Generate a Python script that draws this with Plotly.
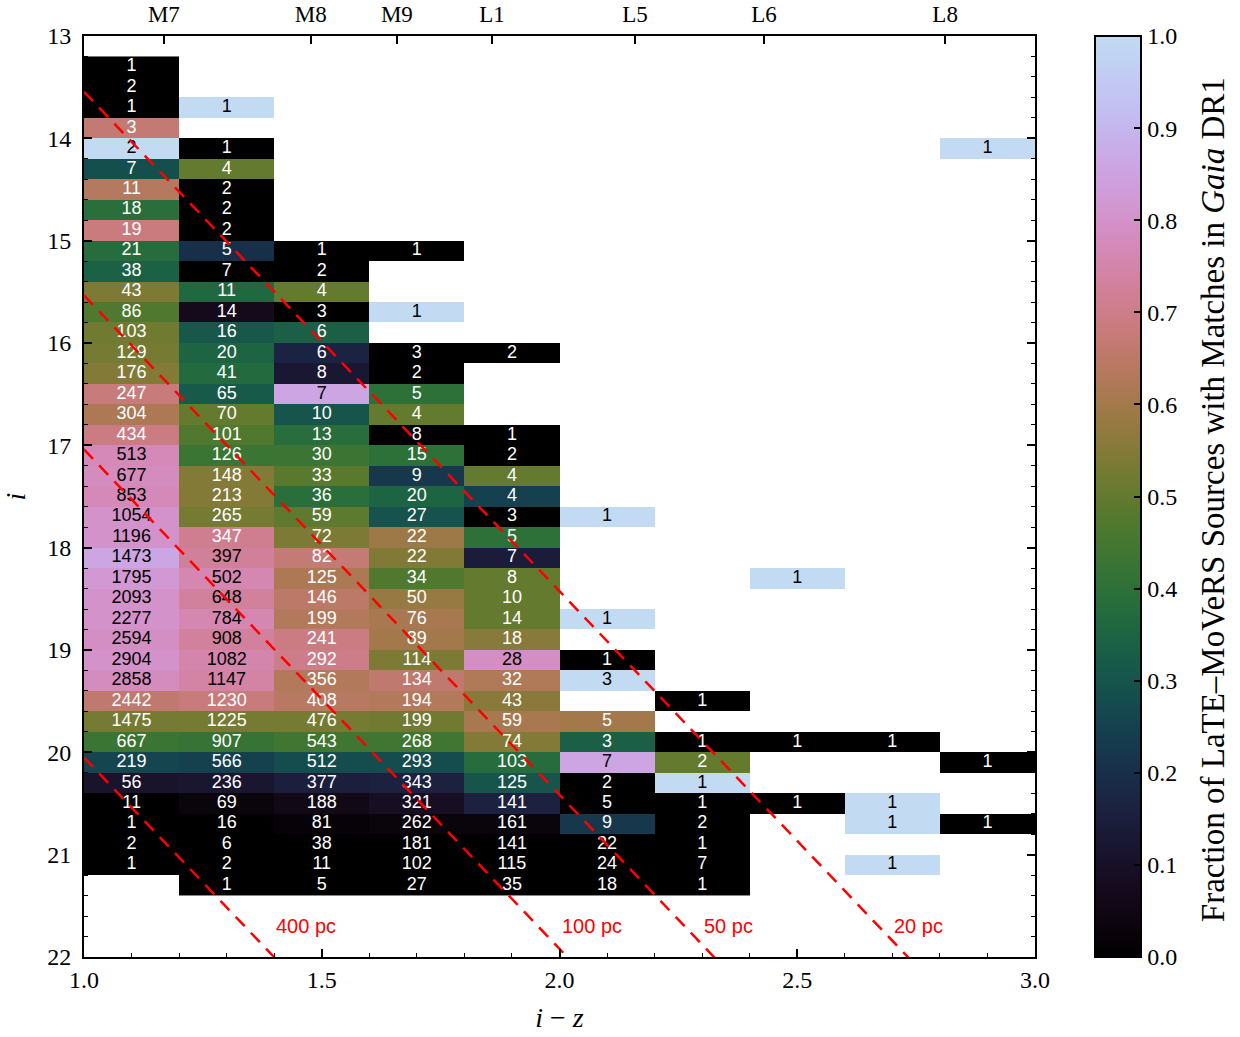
import numpy as np
import plotly.graph_objects as go

# ---------------------------------------------------------------- data
# i-z colour bins (lower edges) and i-magnitude bin width
COLOUR_EDGES = [1.0, 1.2, 1.4, 1.6, 1.8, 2.0, 2.2, 2.4, 2.6, 2.8, 3.0]
MAG_LO, MAG_HI, MAG_STEP = 13.2, 21.4, 0.2

# per colour column: first magnitude bin, source counts, fraction matched in Gaia DR1
start_c1 = 13.2
counts_c1 = [1, 2, 1, 3, 2, 7, 11, 18, 19, 21, 38, 43, 86, 103, 129, 176, 247, 304, 434, 513,
             677, 853, 1054, 1196, 1473, 1795, 2093, 2277, 2594, 2904, 2858, 2442, 1475, 667,
             219, 56, 11, 1, 2, 1]
frac_c1 = [0, 0, 0, 0.667, 1.0, 0.286, 0.636, 0.389, 0.684, 0.381, 0.34, 0.54, 0.47, 0.52, 0.53,
           0.55, 0.68, 0.62, 0.69, 0.77, 0.78, 0.77, 0.80, 0.80, 0.86, 0.82, 0.80, 0.80, 0.79,
           0.80, 0.78, 0.66, 0.53, 0.43, 0.26, 0.11, 0.0, 0, 0, 0]

start_c2 = 13.6
counts_c2 = [1, None, 1, 4, 2, 2, 2, 5, 7, 11, 14, 16, 20, 41, 65, 70, 101, 126, 148, 213, 265,
             347, 397, 502, 648, 784, 908, 1082, 1147, 1230, 1225, 907, 566, 236, 69, 16, 6, 2, 1]
frac_c2 = [1.0, None, 0, 0.5, 0, 0, 0, 0.2, 0, 0.364, 0.071, 0.3125, 0.35, 0.37, 0.32, 0.50, 0.47,
           0.43, 0.55, 0.55, 0.53, 0.71, 0.725, 0.76, 0.73, 0.76, 0.73, 0.75, 0.74, 0.68, 0.53,
           0.42, 0.25, 0.12, 0.03, 0, 0, 0, 0]

start_c3 = 15.0
counts_c3 = [1, 2, 4, 3, 6, 6, 8, 7, 10, 13, 30, 33, 36, 59, 72, 82, 125, 146, 199, 241, 292, 356,
             408, 476, 543, 512, 377, 188, 81, 38, 11, 5]
frac_c3 = [0, 0, 0.5, 0, 0.333, 0.167, 0.125, 0.857, 0.3, 0.385, 0.433, 0.485, 0.389, 0.49, 0.54,
           0.67, 0.62, 0.65, 0.63, 0.69, 0.70, 0.63, 0.64, 0.53, 0.44, 0.28, 0.15, 0.06, 0.02,
           0, 0, 0]

start_c4 = 15.0
counts_c4 = [1, None, None, 1, None, 3, 2, 5, 4, 8, 15, 9, 20, 27, 22, 22, 34, 50, 76, 89, 114,
             134, 194, 199, 268, 293, 343, 321, 262, 181, 102, 27]
frac_c4 = [0, None, None, 1.0, None, 0, 0, 0.4, 0.5, 0, 0.4, 0.222, 0.35, 0.296, 0.59, 0.545,
           0.47, 0.58, 0.61, 0.60, 0.54, 0.66, 0.63, 0.52, 0.44, 0.28, 0.16, 0.09, 0.03, 0, 0, 0]

start_c5 = 16.0
counts_c5 = [2, None, None, None, 1, 2, 4, 4, 3, 5, 7, 8, 10, 14, 18, 28, 32, 43, 59, 74, 103,
             125, 141, 161, 141, 115, 35]
frac_c5 = [0, None, None, None, 0, 0, 0.5, 0.25, 0, 0.4, 0.143, 0.5, 0.5, 0.5, 0.556, 0.786,
           0.625, 0.558, 0.61, 0.55, 0.38, 0.30, 0.16, 0.03, 0, 0, 0]

start_c6 = 17.6
counts_c6 = [1, None, None, None, None, 1, None, 1, 3, None, 5, 3, 7, 2, 5, 9, 22, 24, 18]
frac_c6 = [1.0, None, None, None, None, 1.0, None, 0, 1.0, None, 0.6, 0.333, 0.857, 0, 0,
           0.222, 0, 0, 0]

start_c7 = 19.4
counts_c7 = [1, None, 1, 2, 1, 1, 2, 1, 7, 1]
frac_c7 = [0, None, 0, 0.5, 1.0, 0, 0, 0, 0, 0]

start_c8 = 18.2
counts_c8 = [1, None, None, None, None, None, None, None, 1, None, None, 1]
frac_c8 = [1.0, None, None, None, None, None, None, None, 0, None, None, 0]

start_c9 = 19.8
counts_c9 = [1, None, None, 1, 1, None, 1]
frac_c9 = [0, None, None, 1.0, 1.0, None, 1.0]

start_c10 = 14.0
counts_c10 = [1] + [None] * 29 + [1, None, None, 1]
frac_c10 = [1.0] + [None] * 29 + [0, None, None, 0]

# spectral-type reference colours along the top axis
SPT_LABELS = ["M7", "M8", "M9", "L1", "L5", "L6", "L8"]
SPT_COLOURS = [1.168, 1.477, 1.658, 1.858, 2.159, 2.430, 2.811]

# linear colour-absolute magnitude relation M_i = a + b (i - z) and distance tracks
ABS_MAG_ZERO = 7.16
ABS_MAG_SLOPE = 4.88
DISTANCES_PC = [400, 100, 50, 20]
DIST_LABEL_X = [1.4, 2.0, 2.3, 2.7]
DIST_LABEL_Y = 21.7

# ---------------------------------------------------------------- colour map
def cubehelix(t, start=0.5, rot=-1.5, hue=1.0, gamma=1.0):
    xg = t ** gamma
    amp = hue * xg * (1 - xg) / 2
    phi = 2 * np.pi * (start / 3 + rot * t)
    r = xg + amp * (-0.14861 * np.cos(phi) + 1.78277 * np.sin(phi))
    g = xg + amp * (-0.29227 * np.cos(phi) - 0.90649 * np.sin(phi))
    b = xg + amp * (1.97294 * np.cos(phi))
    return [int(round(255 * min(max(c, 0), 1))) for c in (r, g, b)]

CMAP_TOP = 0.84
colorscale = []
for k in range(41):
    f = k / 40
    r, g, b = cubehelix(f * CMAP_TOP)
    colorscale.append([f, f"rgb({r},{g},{b})"])

# ---------------------------------------------------------------- grid
n_rows = int(round((MAG_HI - MAG_LO) / MAG_STEP))
mag_edges = [round(MAG_LO + MAG_STEP * k, 1) for k in range(n_rows + 1)]
z = np.full((n_rows, len(COLOUR_EDGES) - 1), np.nan)

columns = [
    (start_c1, counts_c1, frac_c1), (start_c2, counts_c2, frac_c2),
    (start_c3, counts_c3, frac_c3), (start_c4, counts_c4, frac_c4),
    (start_c5, counts_c5, frac_c5), (start_c6, counts_c6, frac_c6),
    (start_c7, counts_c7, frac_c7), (start_c8, counts_c8, frac_c8),
    (start_c9, counts_c9, frac_c9), (start_c10, counts_c10, frac_c10),
]

tx, ty, tt, tc = [], [], [], []
for ci, (start, counts, fracs) in enumerate(columns):
    r0 = int(round((start - MAG_LO) / MAG_STEP))
    xc = (COLOUR_EDGES[ci] + COLOUR_EDGES[ci + 1]) / 2
    for k, (n, fr) in enumerate(zip(counts, fracs)):
        if n is None:
            continue
        row = r0 + k
        z[row, ci] = fr
        tx.append(xc)
        ty.append(MAG_LO + MAG_STEP * (row + 0.5))
        tt.append(str(n))
        tc.append("black" if fr >= 0.715 else "white")

SERIF = "Liberation Serif"
SANS = "Liberation Sans"

fig = go.Figure()
fig.add_trace(go.Heatmap(
    x=COLOUR_EDGES, y=mag_edges, z=z, zmin=0, zmax=1,
    colorscale=colorscale, hoverinfo="skip",
    colorbar=dict(
        x=1.0631, xanchor="left", xref="paper", y=0.5, yanchor="middle",
        len=1, lenmode="fraction", thickness=46, thicknessmode="pixels",
        xpad=0, ypad=0,
        outlinewidth=2, outlinecolor="black",
        tickmode="linear", tick0=0, dtick=0.1, tickformat=".1f",
        ticks="inside", ticklen=8, tickwidth=1.5, tickcolor="black",
        tickfont=dict(family=SERIF, size=24, color="black"),
    ),
))

fig.add_trace(go.Scatter(
    x=tx, y=ty, text=tt, mode="text", hoverinfo="skip", showlegend=False,
    textfont=dict(family=SANS, size=18, color=tc),
))

xs = np.array([1.0, 3.0])
for d in DISTANCES_PC:
    ys = ABS_MAG_ZERO + ABS_MAG_SLOPE * xs + 5 * np.log10(d / 10.0)
    fig.add_trace(go.Scatter(
        x=xs, y=ys, mode="lines", hoverinfo="skip", showlegend=False,
        line=dict(color="red", width=2.5, dash="13px,9px"),
    ))

for d, lx in zip(DISTANCES_PC, DIST_LABEL_X):
    fig.add_annotation(x=lx, y=DIST_LABEL_Y, text=f"{d} pc", showarrow=False,
                       xanchor="left", yanchor="middle",
                       font=dict(family=SANS, size=20, color="red"))

# colour bar caption, set vertically beside the bar
fig.add_annotation(
    xref="paper", yref="paper", x=1.1872, y=0.496, showarrow=False,
    text="Fraction of LaTE\u2013MoVeRS Sources with Matches in <i>Gaia</i> DR1",
    textangle=-90, xanchor="center", yanchor="middle",
    font=dict(family=SERIF, size=33, color="black"),
)

# carrier for the spectral-type axis on top
fig.add_trace(go.Scatter(x=[1.0, 3.0], y=[22, 22], xaxis="x2", mode="lines",
                         line=dict(width=0), hoverinfo="skip", showlegend=False))

fig.update_layout(
    width=1240, height=1037,
    margin=dict(l=84, r=205, t=36, b=80, autoexpand=False),
    paper_bgcolor="white", plot_bgcolor="white",
    showlegend=False,
    xaxis=dict(
        range=[1.0, 3.0], showgrid=False, zeroline=False, automargin=False,
        showline=True, linewidth=2, linecolor="black", mirror=True,
        tickmode="linear", tick0=1.0, dtick=0.5, tickformat=".1f",
        ticks="inside", ticklen=8, tickwidth=1.5, tickcolor="black",
        ticklabelstandoff=0,
        minor=dict(dtick=0.1, tick0=1.0, ticks="inside", ticklen=4, tickwidth=1, tickcolor="black"),
        tickfont=dict(family=SERIF, size=24, color="black"),
        title=dict(text="<i>i</i> \u2212 <i>z</i>", font=dict(family=SERIF, size=28, color="black"),
                   standoff=16),
    ),
    xaxis2=dict(
        range=[1.0, 3.0], overlaying="x", side="top", anchor="y", automargin=False,
        showgrid=False, zeroline=False, showline=False,
        tickmode="array", tickvals=SPT_COLOURS, ticktext=SPT_LABELS,
        ticks="inside", ticklen=8, tickwidth=1.5, tickcolor="black",
        ticklabelstandoff=8,
        tickfont=dict(family=SERIF, size=23, color="black"),
    ),
    yaxis=dict(
        range=[22, 13], showgrid=False, zeroline=False, automargin=False,
        showline=True, linewidth=2, linecolor="black", mirror="ticks",
        tickmode="linear", tick0=13, dtick=1,
        ticks="inside", ticklen=8, tickwidth=1.5, tickcolor="black",
        ticklabelstandoff=6,
        minor=dict(dtick=0.2, tick0=13, ticks="inside", ticklen=4, tickwidth=1, tickcolor="black"),
        tickfont=dict(family=SERIF, size=24, color="black"),
        title=dict(text="<i>i</i>", font=dict(family=SERIF, size=28, color="black"), standoff=18),
    ),
)

fig.write_html("out.html")
